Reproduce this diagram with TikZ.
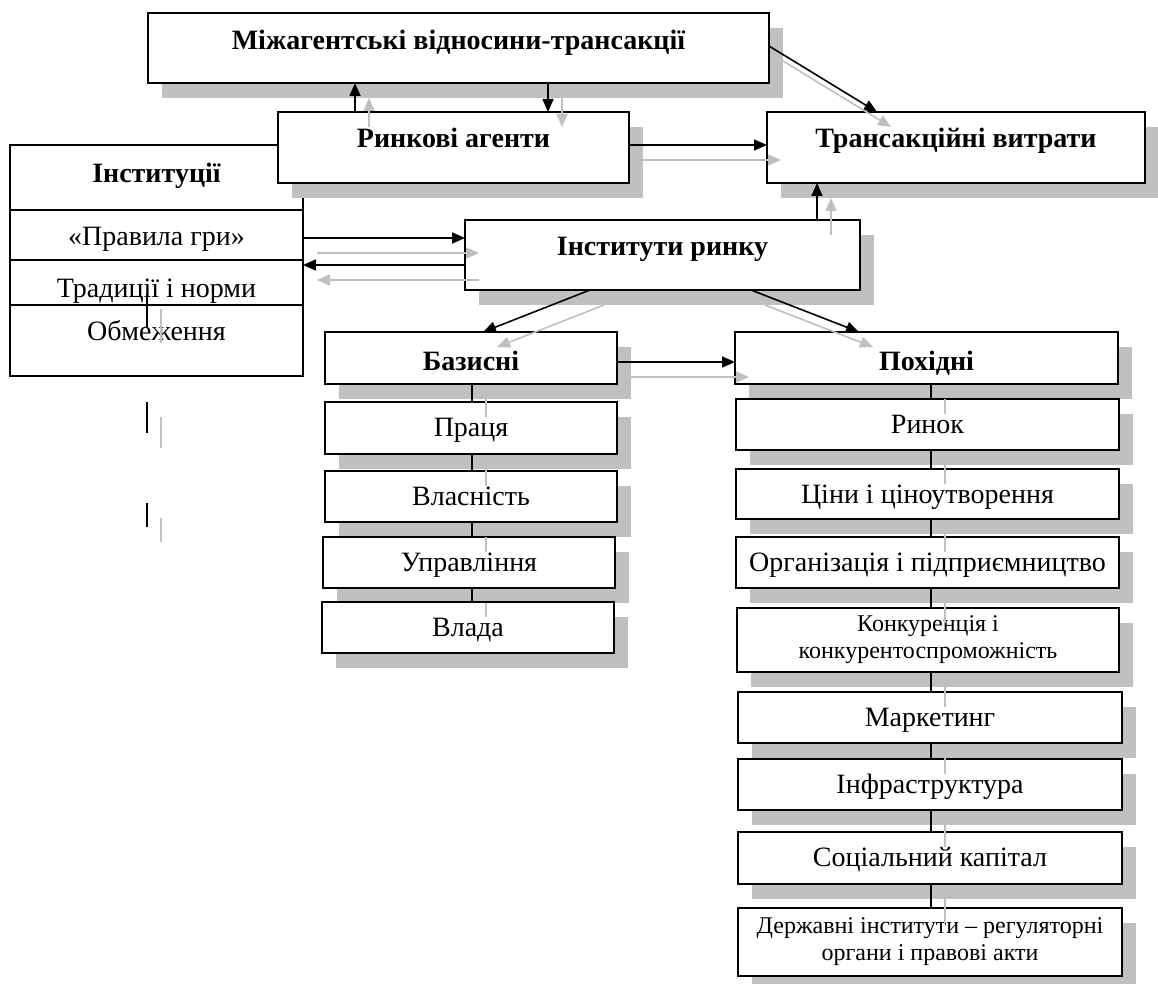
\documentclass[tikz,border=0pt]{standalone}
\usepackage{fontspec}
\setmainfont{Liberation Serif}
\usetikzlibrary{arrows.meta, positioning, shadows}
\definecolor{shadowgray}{RGB}{192,192,192}
\tikzset{
  cell/.style={draw, fill=white, line width=1.1pt, inner sep=0pt, outer sep=0pt,
               font=\fontsize{28}{32}\selectfont},
  headcell/.style={cell, font=\fontsize{28}{32}\selectfont\bfseries},
  smallcell/.style={cell, align=center, font=\fontsize{24}{27}\selectfont},
  boxshadow/.style={drop shadow={shadow xshift=14pt, shadow yshift=-15pt,
                    fill=shadowgray, opacity=1, draw=none}},
  rowcell/.style={cell, boxshadow, text height=34pt},
  link/.style={line width=1.6pt, -{Triangle[length=13pt, width=11pt]}},
  bar/.style={line width=1.3pt},
  echo/.style={draw=shadowgray, transform canvas={xshift=14pt, yshift=-15pt}},
}
\begin{document}
\begin{tikzpicture}[x=1pt, y=-1pt]
\useasboundingbox (0,0) rectangle (1158,984);

% institutions, no shadow
\node (inst) [headcell, minimum width=293pt, text height=38pt, text depth=27pt] at (156.5,177.5) {Інституції};
\node (rules) [cell, minimum width=293pt, text height=36pt, text depth=14pt] at (156.5,235) {«Правила гри»};
\node (norms) [cell, minimum width=293pt, text height=37pt, text depth=8pt] at (156.5,282.5) {Традиції і норми};
\node (limits) [cell, minimum width=293pt, text height=35pt, text depth=36pt] at (156.5,340.5) {Обмеження};

% upper boxes
\node (deals) [headcell, boxshadow, minimum width=621pt, text height=37pt, text depth=33pt] at (458.5,48) {Міжагентські відносини-трансакції};
\node (agents) [headcell, boxshadow, minimum width=351pt, text height=36pt, text depth=35pt] at (453.5,147.5) {Ринкові агенти};
\node (costs) [headcell, boxshadow, minimum width=378pt, text height=36pt, text depth=35pt] at (956,147.5) {Трансакційні витрати};
\node (market) [headcell, boxshadow, minimum width=395pt, text height=35pt, text depth=35pt] at (662.5,255) {Інститути ринку};
\node (basic) [headcell, boxshadow, minimum width=292pt, text height=38pt, text depth=14pt] at (471,358) {Базисні};
\node (derived) [headcell, boxshadow, minimum width=383pt, text height=38pt, text depth=14pt] at (926.5,358) {Похідні};

% basic column
\node (labour) [rowcell, minimum width=292pt, text depth=18pt] at (471,428) {Праця};
\node (property) [rowcell, minimum width=292pt, text depth=17pt] at (471,496.5) {Власність};
\node (manage) [rowcell, minimum width=292pt, text depth=17pt] at (469,562.5) {Управління};
\node (power) [rowcell, minimum width=292pt, text depth=17pt] at (468,627.5) {Влада};

% derived column
\node (mkt) [rowcell, minimum width=383pt, text depth=17pt] at (927.5,424.5) {Ринок};
\node (prices) [rowcell, minimum width=383pt, text depth=16pt] at (927.5,494) {Ціни і ціноутворення};
\node (firms) [rowcell, minimum width=383pt, text depth=17pt] at (927.5,562.5) {Організація і підприємництво};
\node (rivalry) [smallcell, boxshadow, minimum width=382pt, minimum height=64pt] at (928,640) {Конкуренція і\\конкурентоспроможність};
\node (marketing) [rowcell, minimum width=384pt, text depth=17pt] at (930,717.5) {Маркетинг};
\node (infra) [rowcell, minimum width=384pt, text depth=17pt] at (930,784.5) {Інфраструктура};
\node (social) [rowcell, minimum width=384pt, text depth=18pt] at (930,858) {Соціальний капітал};
\node (state) [smallcell, boxshadow, minimum width=384pt, minimum height=68pt] at (930,942) {Державні інститути – регуляторні\\органи і правові акти};

% arrows
\draw[link] ([xshift=-98.5pt]agents.north) -- ([xshift=-98.5pt]agents.north |- deals.south);
\draw[link, echo] ([xshift=-98.5pt]agents.north) -- ([xshift=-98.5pt]agents.north |- deals.south);
\draw[link] ([xshift=89.5pt]deals.south) -- ([xshift=89.5pt]deals.south |- agents.north);
\draw[link, echo] ([xshift=89.5pt]deals.south) -- ([xshift=89.5pt]deals.south |- agents.north);
\draw[link] ([yshift=2pt]deals.east) -- ([xshift=-79pt]costs.north);
\draw[link, echo] ([yshift=2pt]deals.east) -- ([xshift=-79pt]costs.north);
\draw[link] ([yshift=2.5pt]agents.east) -- ([yshift=2.5pt]agents.east -| costs.west);
\draw[link, echo] ([yshift=2.5pt]agents.east) -- ([yshift=2.5pt]agents.east -| costs.west);
\draw[link] ([xshift=154.5pt]market.north) -- ([xshift=154.5pt]market.north |- costs.south);
\draw[link, echo] ([xshift=154.5pt]market.north) -- ([xshift=154.5pt]market.north |- costs.south);
\draw[link] ([yshift=-3pt]rules.east) -- ([yshift=-3pt]rules.east -| market.west);
\draw[link, echo] ([yshift=-3pt]rules.east) -- ([yshift=-3pt]rules.east -| market.west);
\draw[link] ([yshift=-10pt]market.west) -- ([yshift=-10pt]market.west -| rules.east);
\draw[link, echo] ([yshift=-10pt]market.west) -- ([yshift=-10pt]market.west -| rules.east);
\draw[link] ([xshift=-72.5pt]market.south) -- ([xshift=12pt]basic.north);
\draw[link, echo] ([xshift=-72.5pt]market.south) -- ([xshift=12pt]basic.north);
\draw[link] ([xshift=88.5pt]market.south) -- ([xshift=-67.5pt]derived.north);
\draw[link, echo] ([xshift=88.5pt]market.south) -- ([xshift=-67.5pt]derived.north);
\draw[link] ([yshift=-4pt]basic.east) -- ([yshift=-4pt]basic.east -| derived.west);
\draw[link, echo] ([yshift=-4pt]basic.east) -- ([yshift=-4pt]basic.east -| derived.west);

% column bars
\coordinate (lx) at (472,0);
\coordinate (rx) at (931,0);
\draw[bar] (basic.south -| lx) -- (labour.north -| lx);
\draw[bar, echo] (basic.south -| lx) -- (labour.north -| lx);
\draw[bar] (labour.south -| lx) -- (property.north -| lx);
\draw[bar, echo] (labour.south -| lx) -- (property.north -| lx);
\draw[bar] (property.south -| lx) -- (manage.north -| lx);
\draw[bar, echo] (property.south -| lx) -- (manage.north -| lx);
\draw[bar] (manage.south -| lx) -- (power.north -| lx);
\draw[bar, echo] (manage.south -| lx) -- (power.north -| lx);

\draw[bar] (derived.south -| rx) -- (mkt.north -| rx);
\draw[bar, echo] (derived.south -| rx) -- (mkt.north -| rx);
\draw[bar] (mkt.south -| rx) -- (prices.north -| rx);
\draw[bar, echo] (mkt.south -| rx) -- (prices.north -| rx);
\draw[bar] (prices.south -| rx) -- (firms.north -| rx);
\draw[bar, echo] (prices.south -| rx) -- (firms.north -| rx);
\draw[bar] (firms.south -| rx) -- (rivalry.north -| rx);
\draw[bar, echo] (firms.south -| rx) -- (rivalry.north -| rx);
\draw[bar] (rivalry.south -| rx) -- (marketing.north -| rx);
\draw[bar, echo] (rivalry.south -| rx) -- (marketing.north -| rx);
\draw[bar] (marketing.south -| rx) -- (infra.north -| rx);
\draw[bar, echo] (marketing.south -| rx) -- (infra.north -| rx);
\draw[bar] (infra.south -| rx) -- (social.north -| rx);
\draw[bar, echo] (infra.south -| rx) -- (social.north -| rx);
\draw[bar] (social.south -| rx) -- (state.north -| rx);
\draw[bar, echo] (social.south -| rx) -- (state.north -| rx);

% loose ticks
\coordinate (t1) at (147,294);
\coordinate (t2) at (147,328);
\coordinate (t3) at (147,402);
\coordinate (t4) at (147,433);
\coordinate (t5) at (147,503);
\coordinate (t6) at (147,527);
\draw[bar] (t1) -- (t2);
\draw[bar, echo] (t1) -- (t2);
\draw[bar] (t3) -- (t4);
\draw[bar, echo] (t3) -- (t4);
\draw[bar] (t5) -- (t6);
\draw[bar, echo] (t5) -- (t6);
\end{tikzpicture}
\end{document}
